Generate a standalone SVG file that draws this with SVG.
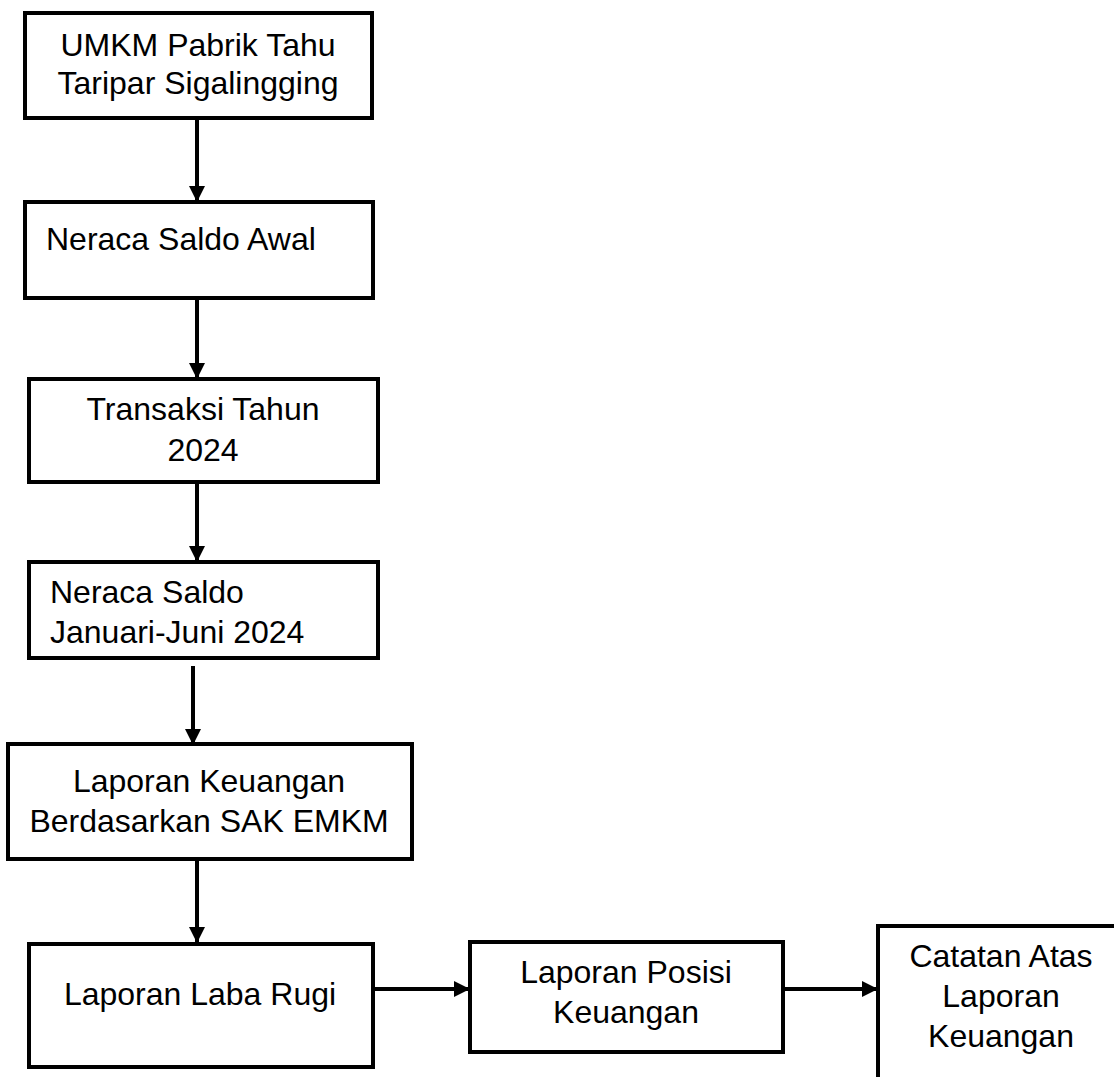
<svg xmlns="http://www.w3.org/2000/svg" width="1114" height="1077" viewBox="0 0 1114 1077">
<style>
.box{fill:#fff;stroke:#000;stroke-width:4}
.t{font-family:"Liberation Sans",Arial,sans-serif;font-size:32px;fill:#000}
.c{text-anchor:middle}
.conn{stroke:#000;stroke-width:4;fill:none}
</style>
<defs>
<marker id="ah" viewBox="0 0 10 10" refX="10" refY="5" markerWidth="4" markerHeight="4" markerUnits="strokeWidth" orient="auto">
<path d="M0,0 L10,5 L0,10 z" fill="#000"/>
</marker>
</defs>
<rect width="1114" height="1077" fill="#fff"/>
<g id="connectors">
<line class="conn" x1="197" y1="118" x2="197" y2="202" marker-end="url(#ah)"/>
<line class="conn" x1="197" y1="298" x2="197" y2="379" marker-end="url(#ah)"/>
<line class="conn" x1="197" y1="482" x2="197" y2="562" marker-end="url(#ah)"/>
<line class="conn" x1="193" y1="666" x2="193" y2="745" marker-end="url(#ah)"/>
<line class="conn" x1="197" y1="859" x2="197" y2="943" marker-end="url(#ah)"/>
<line class="conn" x1="373" y1="989" x2="470" y2="989" marker-end="url(#ah)"/>
<line class="conn" x1="783" y1="989" x2="878" y2="989" marker-end="url(#ah)"/>
</g>
<g id="n1"><rect class="box" x="25" y="13" width="347" height="105"/>
<text class="t c" x="198" y="56">UMKM Pabrik Tahu</text>
<text class="t c" x="198" y="94">Taripar Sigalingging</text></g>
<g id="n2"><rect class="box" x="25" y="202" width="348" height="96"/>
<text class="t" x="46" y="250">Neraca Saldo Awal</text></g>
<g id="n3"><rect class="box" x="29" y="379" width="349" height="103"/>
<text class="t c" x="203" y="420">Transaksi Tahun</text>
<text class="t c" x="203" y="461">2024</text></g>
<g id="n4"><rect class="box" x="29" y="562" width="349" height="96"/>
<text class="t" x="50" y="603">Neraca Saldo</text>
<text class="t" x="50" y="643">Januari-Juni 2024</text></g>
<g id="n5"><rect class="box" x="8" y="744" width="404" height="115"/>
<text class="t c" x="209" y="792">Laporan Keuangan</text>
<text class="t c" x="209" y="832">Berdasarkan SAK EMKM</text></g>
<g id="n6"><rect class="box" x="29" y="944" width="344" height="123"/>
<text class="t c" x="200" y="1005">Laporan Laba Rugi</text></g>
<g id="n7"><rect class="box" x="470" y="942" width="313" height="110"/>
<text class="t c" x="626" y="983">Laporan Posisi</text>
<text class="t c" x="626" y="1023">Keuangan</text></g>
<g id="n8"><rect class="box" x="878" y="926" width="260" height="170"/>
<text class="t c" x="1001" y="967">Catatan Atas</text>
<text class="t c" x="1001" y="1007">Laporan</text>
<text class="t c" x="1001" y="1047">Keuangan</text></g>
</svg>
